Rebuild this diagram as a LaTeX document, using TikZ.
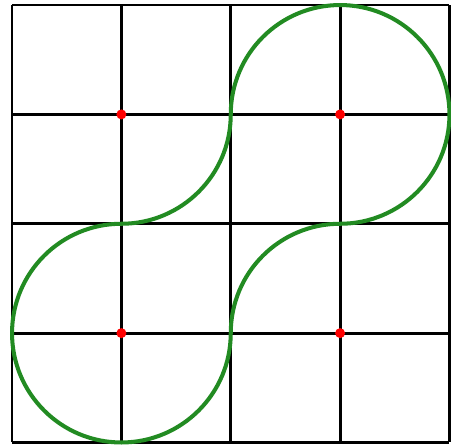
\documentclass[tikz,border=0pt]{standalone}
\usepackage{tikz}
\usepackage{xcolor}
\definecolor{mygreen}{RGB}{34,139,34}
\definecolor{myred}{RGB}{255,0,0}

\begin{document}
\begin{tikzpicture}[scale=1,
  gridline/.style={line width=0.75pt, black},
  loopline/.style={line width=1.05pt, mygreen},
  centerdot/.style={circle, fill=myred, inner sep=0pt, minimum size=2.6pt}]
  \useasboundingbox (-0.11,-0.014) rectangle (4.014,4.046);

  % Draw grid
  \foreach \i in {0,...,4} {
    \draw[gridline] (\i,0) -- (\i,4);
    \draw[gridline] (0,\i) -- (4,\i);
  }

  % Circle centres
  \foreach \x/\y/\name in {1/1/cLD,3/1/cRD,1/3/cLU,3/3/cRU} {
    \node[centerdot] (\name) at (\x,\y) {};
  }

  % Green loop
  \draw[loopline] (2,1) arc[start angle=0, end angle=-270, radius=1]
    arc[start angle=-90, end angle=0, radius=1]
    arc[start angle=180, end angle=-90, radius=1]
    arc[start angle=90, end angle=180, radius=1] -- cycle;
\end{tikzpicture}
\end{document}
